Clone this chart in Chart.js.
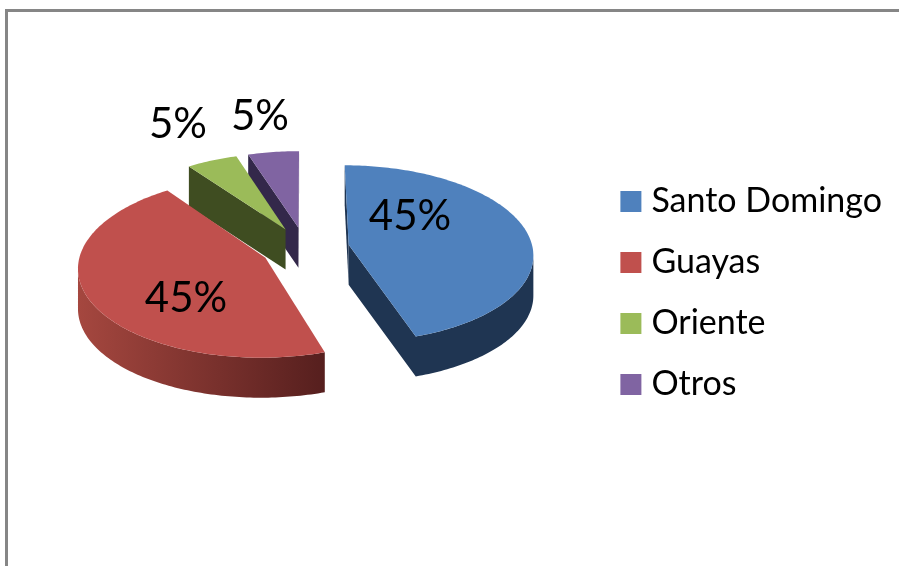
<!DOCTYPE html>
<html>
<head>
<meta charset="utf-8">
<style>
  html, body { margin: 0; padding: 0; background: #fff; overflow: hidden; }
  #wrap { position: relative; width: 899px; height: 566px; overflow: hidden; }
  #frame { position: absolute; left: 5px; top: 9px; width: 1000px; height: 1000px; border: 3px solid #868686; }
  canvas { position: absolute; left: 0; top: 0; }
</style>
</head>
<body>
<div id="wrap">
  <div id="frame"></div>
  <canvas id="pieChart" width="899" height="566"></canvas>
</div>
<script src="https://cdn.jsdelivr.net/npm/chart.js@4/dist/chart.umd.min.js"></script>
<script>
const categories = ['Santo Domingo', 'Guayas', 'Oriente', 'Otros'];
const shares = [45, 45, 5, 5];
const explosion = [24, 24, 24, 24];

const topColors = ['#4F81BD', '#C0504D', '#9BBB59', '#8064A2'];
// flat wall colour, or [left, right] for a gradient
const wallColors = ['#1F3552', ['#A5473F', '#561F1E'], '#3F4D21', '#33284A'];
// baseline of each percent label, x is the centre
const labelSpots = [[410, 230], [186, 312], [178, 138], [260, 130]];

const DEPTH = 40;      // height of the pie walls
const SQUASH = 0.478;  // tilt of the disc
const PERSP = 0.1;     // front of the disc is drawn bigger than the back
const LIFT = 45;       // pie sits above the middle of the area, the legend does not

// px, py are in disc units, py grows towards the viewer
function project(arc, px, py) {
  const d = 1 - PERSP * py;
  return {
    x: arc.x + arc.outerRadius * px / d,
    y: arc.y - LIFT + arc.outerRadius * SQUASH * py / d,
  };
}

function outline(arc) {
  const mid = (arc.startAngle + arc.endAngle) / 2;
  const e = arc.options.offset / 100;
  const ex = e * Math.cos(mid);
  const ey = e * Math.sin(mid);
  const pts = [project(arc, ex, ey)];
  const steps = Math.ceil((arc.endAngle - arc.startAngle) * 180 / Math.PI);
  for (let i = 0; i <= steps; i++) {
    const t = arc.startAngle + (arc.endAngle - arc.startAngle) * i / steps;
    pts.push(project(arc, ex + Math.cos(t), ey + Math.sin(t)));
  }
  pts.push(pts[0]);
  return pts;
}

// runs of outline points whose wall faces the viewer
function visibleRuns(pts) {
  const runs = [];
  let run = null;
  for (let k = 0; k < pts.length - 1; k++) {
    if (pts[k + 1].x < pts[k].x) {
      if (!run) {
        run = [pts[k]];
        runs.push(run);
      }
      run.push(pts[k + 1]);
    } else {
      run = null;
    }
  }
  return runs;
}

const pie3d = {
  id: 'pie3d',
  beforeDatasetDraw(chart, args) {
    const ctx = chart.ctx;
    const arcs = args.meta.data;
    ctx.save();
    // back slices first
    [3, 2, 1, 0].forEach((i) => {
      const pts = outline(arcs[i]);
      let wall = wallColors[i];
      if (Array.isArray(wall)) {
        const xs = pts.map((p) => p.x);
        const g = ctx.createLinearGradient(Math.min(...xs), 0, Math.max(...xs), 0);
        g.addColorStop(0, wall[0]);
        g.addColorStop(1, wall[1]);
        wall = g;
      }
      ctx.fillStyle = wall;
      visibleRuns(pts).forEach((run) => {
        ctx.beginPath();
        run.forEach((p, k) => (k ? ctx.lineTo(p.x, p.y) : ctx.moveTo(p.x, p.y)));
        run.slice().reverse().forEach((p) => ctx.lineTo(p.x, p.y + DEPTH));
        ctx.closePath();
        ctx.fill();
      });
      ctx.fillStyle = topColors[i];
      ctx.beginPath();
      pts.forEach((p, k) => (k ? ctx.lineTo(p.x, p.y) : ctx.moveTo(p.x, p.y)));
      ctx.closePath();
      ctx.fill();
    });
    ctx.restore();
    return false; // the flat arcs are not wanted
  },
  afterDatasetsDraw(chart) {
    const ctx = chart.ctx;
    ctx.save();
    ctx.font = '42px Lato';
    ctx.fillStyle = '#000';
    ctx.textAlign = 'center';
    shares.forEach((v, i) => {
      ctx.fillText(v + '%', labelSpots[i][0], labelSpots[i][1]);
    });
    ctx.restore();
  },
};

new Chart(document.getElementById('pieChart'), {
  type: 'pie',
  plugins: [pie3d],
  data: {
    labels: categories,
    datasets: [
      {
        data: shares,
        backgroundColor: topColors,
        borderColor: topColors,
        borderWidth: 14, // only thickens the legend swatches
        offset: explosion,
        radius: 184,
      },
    ],
  },
  options: {
    responsive: false,
    animation: false,
    layout: { padding: { left: 10, top: 20, right: 7, bottom: 0 } },
    plugins: {
      tooltip: { enabled: false },
      legend: {
        position: 'right',
        labels: {
          boxWidth: 7,
          boxHeight: 7,
          padding: 27,
          color: '#000',
          font: { family: 'Lato', size: 34, lineHeight: 1 },
        },
      },
    },
  },
});
</script>
</body>
</html>
